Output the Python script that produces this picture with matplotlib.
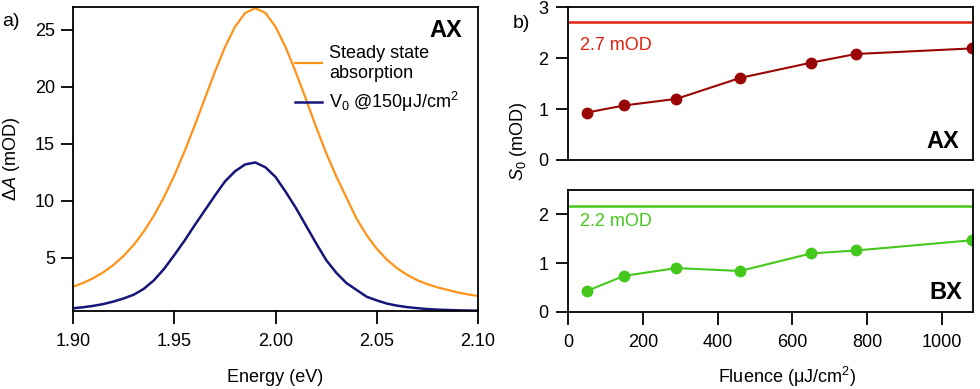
import numpy as np
import matplotlib
matplotlib.use("Agg")
import matplotlib.pyplot as plt

plt.rcParams['font.family'] = ['Liberation Sans', 'DejaVu Sans']
plt.rcParams['mathtext.fontset'] = 'custom'
plt.rcParams['mathtext.rm'] = 'Liberation Sans'
plt.rcParams['mathtext.it'] = 'Liberation Sans:italic'
plt.rcParams['font.size'] = 13

# panel a) spectra, every 5 meV
energy = np.round(np.arange(1.900, 2.1001, 0.005), 3)
steady = [2.48, 2.81, 3.23, 3.75, 4.39, 5.18, 6.15, 7.33, 8.73, 10.36,
          12.22, 14.31, 16.57, 18.93, 21.29, 23.47, 25.27, 26.48, 26.9, 26.48,
          25.27, 23.47, 21.29, 18.93, 16.5, 14.2, 12.15, 10.3, 8.45, 7.0,
          5.8, 4.85, 4.1, 3.52, 3.05, 2.7, 2.42, 2.2, 1.98, 1.8, 1.67]
v0 = [0.59, 0.68, 0.8, 0.96, 1.18, 1.45, 1.78, 2.3, 3.05, 4.05,
      5.25, 6.5, 7.85, 9.15, 10.45, 11.7, 12.6, 13.2, 13.37, 12.95,
      12.1, 10.8, 9.4, 7.85, 6.3, 4.82, 3.7, 2.8, 2.2, 1.6,
      1.28, 1.0, 0.82, 0.69, 0.6, 0.52, 0.47, 0.44, 0.41, 0.39, 0.38]

# panel b) amplitudes vs fluence
fluence = [50, 150, 290, 460, 650, 770, 1080]
s0_ax = [0.93, 1.07, 1.2, 1.61, 1.91, 2.08, 2.19]
s0_bx = [0.43, 0.74, 0.9, 0.84, 1.2, 1.26, 1.47]
sat_ax = 2.7
sat_bx = 2.17

orange = '#FF931A'
navy = '#15157A'
red = '#E0220F'
darkred = '#9A0606'
green = '#45C81C'

fig = plt.figure(figsize=(9.8, 3.89), dpi=100)

def style(ax, xticks=True):
    for s in ax.spines.values():
        s.set_linewidth(1.3)
    ax.tick_params(direction='out', length=9, width=1.3, labelsize=13,
                   top=False, right=False)
    ax.tick_params(axis='y', pad=4)
    ax.tick_params(axis='x', pad=7)
    if not xticks:
        ax.tick_params(axis='x', bottom=False, labelbottom=False)

# a)
ax1 = fig.add_axes([0.0745, 0.2005, 0.4133, 0.7815])
ax1.plot(energy, steady, color=orange, lw=1.6, label='Steady state\nabsorption')
ax1.plot(energy, v0, color=navy, lw=1.8,
         label=r'V$_\mathregular{0}$ @150$\mathregular{\mu}$J/cm$^\mathregular{2}$')
ax1.set_xlim(1.9, 2.1)
ax1.set_ylim(0.35, 27.0)
ax1.set_xticks([1.90, 1.95, 2.00, 2.05, 2.10])
ax1.set_xticklabels(['1.90', '1.95', '2.00', '2.05', '2.10'])
ax1.set_yticks([5, 10, 15, 20, 25])
style(ax1)
ax1.set_xlabel('Energy (eV)', fontsize=13)
ax1.xaxis.set_label_coords(0.5, -0.19)
ax1.set_ylabel(r'Δ$\mathit{A}$ (mOD)', fontsize=13)
ax1.yaxis.set_label_coords(-0.126, 0.5)
ax1.legend(loc='upper left', bbox_to_anchor=(0.548, 0.875), frameon=False,
           borderpad=0, borderaxespad=0, handlelength=1.5, handletextpad=0.4,
           labelspacing=0.45, fontsize=13)
ax1.text(0.96, 0.924, 'AX', transform=ax1.transAxes, ha='right', va='center',
         fontsize=17, fontweight='bold')

# b) top
ax2 = fig.add_axes([0.5796, 0.5887, 0.4133, 0.393])
ax2.axhline(sat_ax, color=red, lw=1.8)
ax2.plot(fluence, s0_ax, color=darkred, lw=1.5, marker='o', ms=7.5)
ax2.set_xlim(0, 1083)
ax2.set_ylim(0, 3)
ax2.set_yticks([0, 1, 2, 3])
style(ax2, xticks=False)
ax2.tick_params(axis='y', pad=5)
ax2.text(0.03, 0.75, '2.7 mOD', transform=ax2.transAxes, color=red,
         ha='left', va='center', fontsize=13)
ax2.text(0.965, 0.118, 'AX', transform=ax2.transAxes, ha='right', va='center',
         fontsize=17, fontweight='bold')

# b) bottom
ax3 = fig.add_axes([0.5796, 0.198, 0.4133, 0.3136])
ax3.axhline(sat_bx, color=green, lw=1.8)
ax3.plot(fluence, s0_bx, color=green, lw=1.5, marker='o', ms=7.5)
ax3.set_xlim(0, 1083)
ax3.set_ylim(0, 2.5)
ax3.set_yticks([0, 1, 2])
ax3.set_xticks([0, 200, 400, 600, 800, 1000])
style(ax3)
ax3.tick_params(axis='y', pad=5)
ax3.set_xlabel(r'Fluence ($\mathregular{\mu}$J/cm$^\mathregular{2}$)', fontsize=13)
ax3.xaxis.set_label_coords(0.54, -0.43)
ax3.text(0.03, 0.74, '2.2 mOD', transform=ax3.transAxes, color=green,
         ha='left', va='center', fontsize=13)
ax3.text(0.973, 0.156, 'BX', transform=ax3.transAxes, ha='right', va='center',
         fontsize=17, fontweight='bold')

fig.text(518 / 980, 1 - 141 / 389, r'$\mathit{S_0}$ (mOD)', rotation=90,
         ha='center', va='center', fontsize=13)
fig.text(0.002, 1 - 22 / 389, 'a)', ha='left', va='center', fontsize=14)
fig.text(513 / 980, 1 - 23 / 389, 'b)', ha='left', va='center', fontsize=14)

fig.savefig('out.png', dpi=100)
